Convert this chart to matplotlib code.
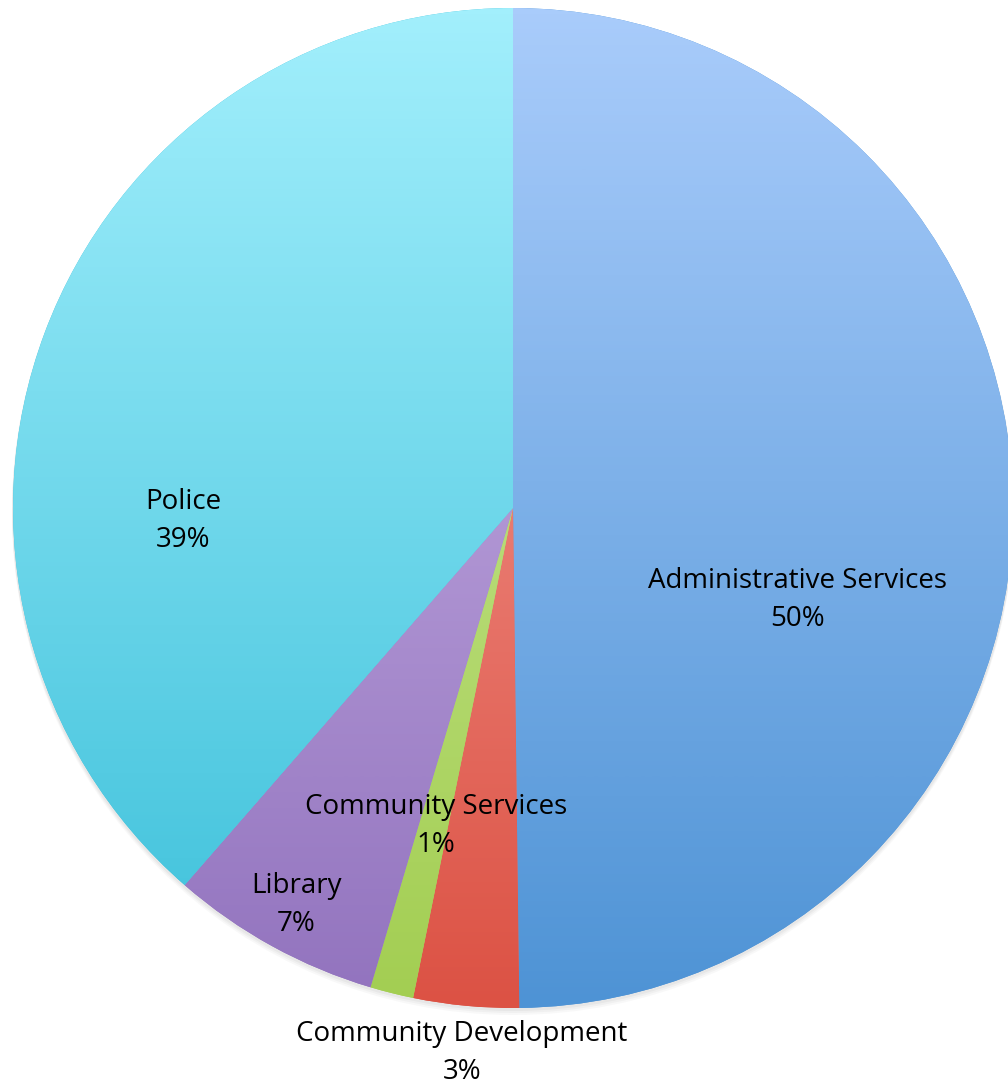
import numpy as np
import matplotlib.pyplot as plt
from matplotlib.colors import LinearSegmentedColormap

plt.rcParams['font.family'] = ['Open Sans', 'DejaVu Sans']

# data
names = ["Administrative Services", "Community Development", "Community Services",
         "Library", "Police"]
shares = [49.8, 3.4, 1.4, 6.8, 38.6]
pct_labels = ["50%", "3%", "1%", "7%", "39%"]

# top / bottom colours of each slice gradient
tops = ["#A9CCFB", "#F7A49E", "#CDEA9E", "#CFB9EA", "#A2EFFC"]
bottoms = ["#4E93D5", "#DC5244", "#A3CE52", "#9273BE", "#3CC0DA"]

W, H = 1008, 1089
cx, cy, r = 513, H - 508, 500

fig = plt.figure(figsize=(W / 100, H / 100), dpi=100)
ax = fig.add_axes([0, 0, 1, 1])

# soft shadow under the pie
for k, a in [(6, 0.05), (4, 0.06), (2, 0.08)]:
    ax.add_patch(plt.Circle((cx, cy - k), r + 1, color='gray', alpha=a, lw=0, zorder=0))

wedges, _ = ax.pie(shares, startangle=90, counterclock=False, center=(cx, cy),
                   radius=r, frame=True, wedgeprops=dict(linewidth=0))

grad = np.linspace(0, 1, 256).reshape(-1, 1)
for w, c0, c1 in zip(wedges, tops, bottoms):
    w.set_facecolor(c1)
    w.set_zorder(1)
    cmap = LinearSegmentedColormap.from_list('g', [c1, c0])
    im = ax.imshow(grad, cmap=cmap, origin='lower', aspect='auto',
                   extent=(cx - r, cx + r, cy - r, cy + r), zorder=2,
                   interpolation='bilinear')
    im.set_clip_path(w)

ax.set_xlim(0, W)
ax.set_ylim(0, H)
ax.set_aspect('equal')
ax.axis('off')

# label positions (pixel coords from top)
label_xy = [(798, 600), (462, 1053), (436, 826), (296, 905), (183, 521)]
for n, p, (x, y) in zip(names, pct_labels, label_xy):
    ax.text(x, H - y, n + "\n" + p, ha='center', va='center', fontsize=20,
            linespacing=1.5, color='black', zorder=5)

fig.savefig('out.png', dpi=100)
